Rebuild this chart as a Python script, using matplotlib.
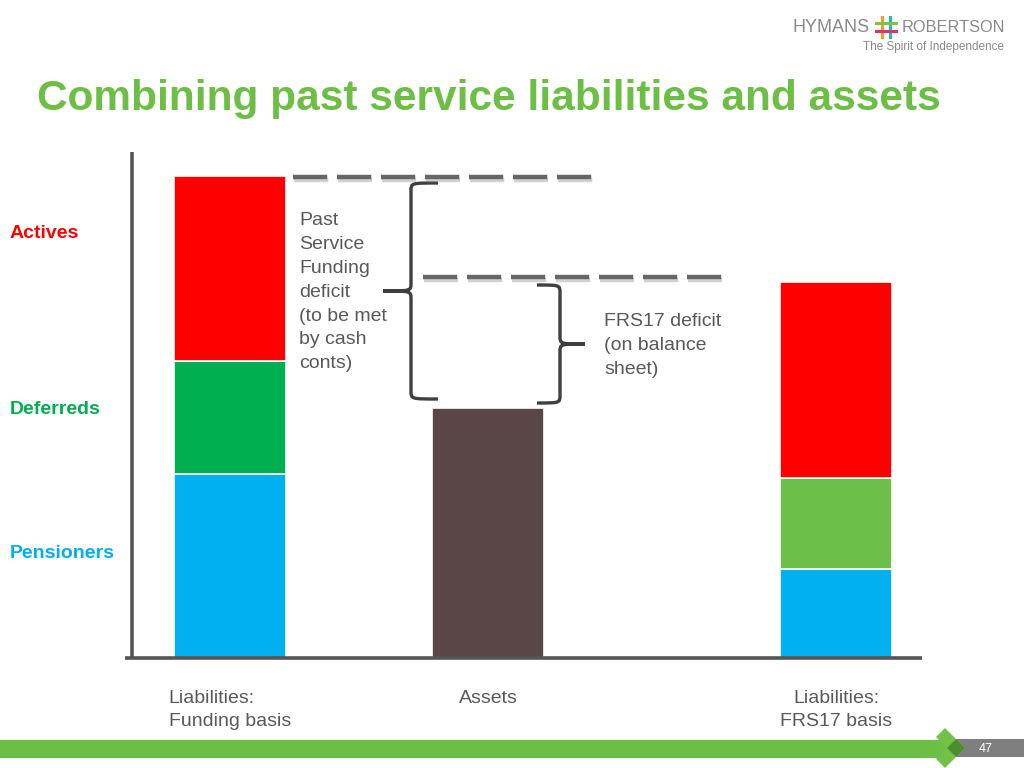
import numpy as np
import matplotlib.pyplot as plt
import matplotlib.patheffects as pe
from matplotlib.path import Path
from matplotlib.patches import PathPatch, Rectangle, Polygon

plt.rcParams['font.family'] = ['Liberation Sans', 'DejaVu Sans']

# illustrative sizes (arbitrary units)
categories = ['Liabilities:\nFunding basis', 'Assets', 'Liabilities:\nFRS17 basis']
pensioners = [184, 0, 89]
deferreds = [113, 0, 91]
actives = [185, 0, 196]
assets = [0, 250, 0]

blue = '#00B0F0'
red = '#FF0000'
green_fund = '#00B050'
green_frs = '#6CC04A'
brown = '#5A4646'
title_green = '#6DBE45'
grey_txt = '#595959'

fig = plt.figure(figsize=(10.24, 7.68), dpi=100)
W, H = 1024, 768

# overlay in pixel coords for slide decorations
ov = fig.add_axes([0, 0, 1, 1])
ov.set_xlim(0, W)
ov.set_ylim(H, 0)
ov.axis('off')

# main chart axes, 1 data unit ~ 1 pixel
x0, x1, ybase, ytop = 132, 922, 658, 152
ax = fig.add_axes([x0 / W, (H - ybase) / H, (x1 - x0) / W, (ybase - ytop) / H])
ax.patch.set_alpha(0)
ax.set_xlim(0, x1 - x0)
ax.set_ylim(0, ybase - ytop)

xpos = np.array([98, 356, 704])
width = 112
pens = np.array(pensioners)
defs = np.array(deferreds)
acts = np.array(actives)
ass = np.array(assets)

ax.bar(xpos, pens, width, color=blue, edgecolor='white', linewidth=1.2)
ax.bar(xpos, defs, width, bottom=pens, color=[green_fund, green_fund, green_frs],
       edgecolor='white', linewidth=1.2)
ax.bar(xpos, acts, width, bottom=pens + defs, color=red, edgecolor='white', linewidth=1.2)
ax.bar(xpos, ass, width, color=brown, edgecolor='white', linewidth=1.2)

for s in ['top', 'right']:
    ax.spines[s].set_visible(False)
for s in ['left', 'bottom']:
    ax.spines[s].set_color('#555555')
    ax.spines[s].set_linewidth(2.6)
    ax.spines[s].set_capstyle('butt')
ax.spines['bottom'].set_bounds(-7, x1 - x0)
ax.set_yticks([])
ax.set_xticks(xpos)
ax.set_xticklabels(categories, fontsize=14, color=grey_txt, va='top', linespacing=1.45)
ax.tick_params(axis='x', length=0, pad=23)
ax.get_xticklabels()[0].set_multialignment('left')

# dashed levels for the two liability totals
fund_tot = (pens + defs + acts)[0]
frs_tot = (pens + defs + acts)[2]
asset_tot = ass[1]
shadow = [pe.SimpleLineShadow(offset=(1, -2), shadow_color='#999999', alpha=0.45),
          pe.Normal()]
for y, xa, xb in [(fund_tot - 1, 161, 461), (frs_tot + 5, 291, 590)]:
    ax.plot([xa, xb], [y, y], color='#666666', lw=3.2, dashes=(7.7, 2.2),
            clip_on=False, path_effects=shadow)


def brace(xe, xs, xt, ytop_, ybot, r=8):
    ymid = (ytop_ + ybot) / 2
    sgn = 1 if ytop_ > ybot else -1
    verts = [(xe, ytop_), (xs, ytop_), (xs, ytop_), (xs, ytop_ - sgn * r),
             (xs, ymid + sgn * r),
             (xs, ymid), (xs, ymid), (xt, ymid),
             (xs, ymid), (xs, ymid), (xs, ymid - sgn * r),
             (xs, ybot + sgn * r),
             (xs, ybot), (xs, ybot), (xe, ybot)]
    codes = [Path.MOVETO, Path.CURVE4, Path.CURVE4, Path.CURVE4, Path.LINETO,
             Path.CURVE4, Path.CURVE4, Path.CURVE4,
             Path.CURVE4, Path.CURVE4, Path.CURVE4, Path.LINETO,
             Path.CURVE4, Path.CURVE4, Path.CURVE4]
    ax.add_patch(PathPatch(Path(verts, codes), fill=False, ec='#3f3f3f', lw=2.4,
                           clip_on=False))


brace(306, 279, 251, fund_tot - 7, asset_tot + 9)
brace(405, 428, 453, frs_tot - 3, asset_tot + 5)

# annotation texts
ov.text(299, 212, 'Past\nService\nFunding\ndeficit\n(to be met\nby cash\nconts)',
        fontsize=14, color=grey_txt, va='top', ha='left', linespacing=1.53)
ov.text(604, 313, 'FRS17 deficit\n(on balance\nsheet)', fontsize=14, color=grey_txt,
        va='top', ha='left', linespacing=1.53)

# member group labels
ov.text(10, 233, 'Actives', color=red, fontsize=14, fontweight='bold', va='center')
ov.text(10, 409, 'Deferreds', color=green_fund, fontsize=14, fontweight='bold', va='center')
ov.text(10, 553, 'Pensioners', color=blue, fontsize=14, fontweight='bold', va='center')

# title
ov.text(37, 99, 'Combining past service liabilities and assets', color=title_green,
        fontsize=30.5, fontweight='bold', va='center', ha='left')

# logo
ov.text(793, 27, 'HYMANS', color='#8a8a8a', fontsize=13, va='center', ha='left')
ov.text(902, 27, 'ROBERTSON', color='#8a8a8a', fontsize=11.8, va='center', ha='left')
ov.text(1004, 47, 'The Spirit of Independence', color='#8a8a8a', fontsize=8.5,
        va='center', ha='right')
ov.plot([882, 882], [17, 37], color='#F39C27', lw=2.2)
ov.plot([890, 890], [17, 37], color='#2BB5C8', lw=2.2)
ov.plot([876, 896], [23, 23], color='#7DC242', lw=2.2)
ov.plot([876, 896], [31, 31], color='#D6337A', lw=2.2)

# footer bar with chevron
ov.add_patch(Rectangle((0, 740), 950, 18, color='#6DBE45', lw=0))
ov.add_patch(Rectangle((955, 739), 69, 18, color='#7f7f7f', lw=0))
ov.add_patch(Polygon([(936, 737), (945, 728), (965, 748), (956, 757)], color='#72C247', lw=0))
ov.add_patch(Polygon([(936, 759), (945, 768), (965, 748), (956, 739)], color='#72C247', lw=0))
ov.add_patch(Polygon([(947, 748), (956, 739), (965, 748), (956, 757)], color='#4A8F2C', lw=0))
ov.text(986, 749, '47', color='white', fontsize=9, va='center', ha='center')

fig.savefig('out.png', dpi=100)
